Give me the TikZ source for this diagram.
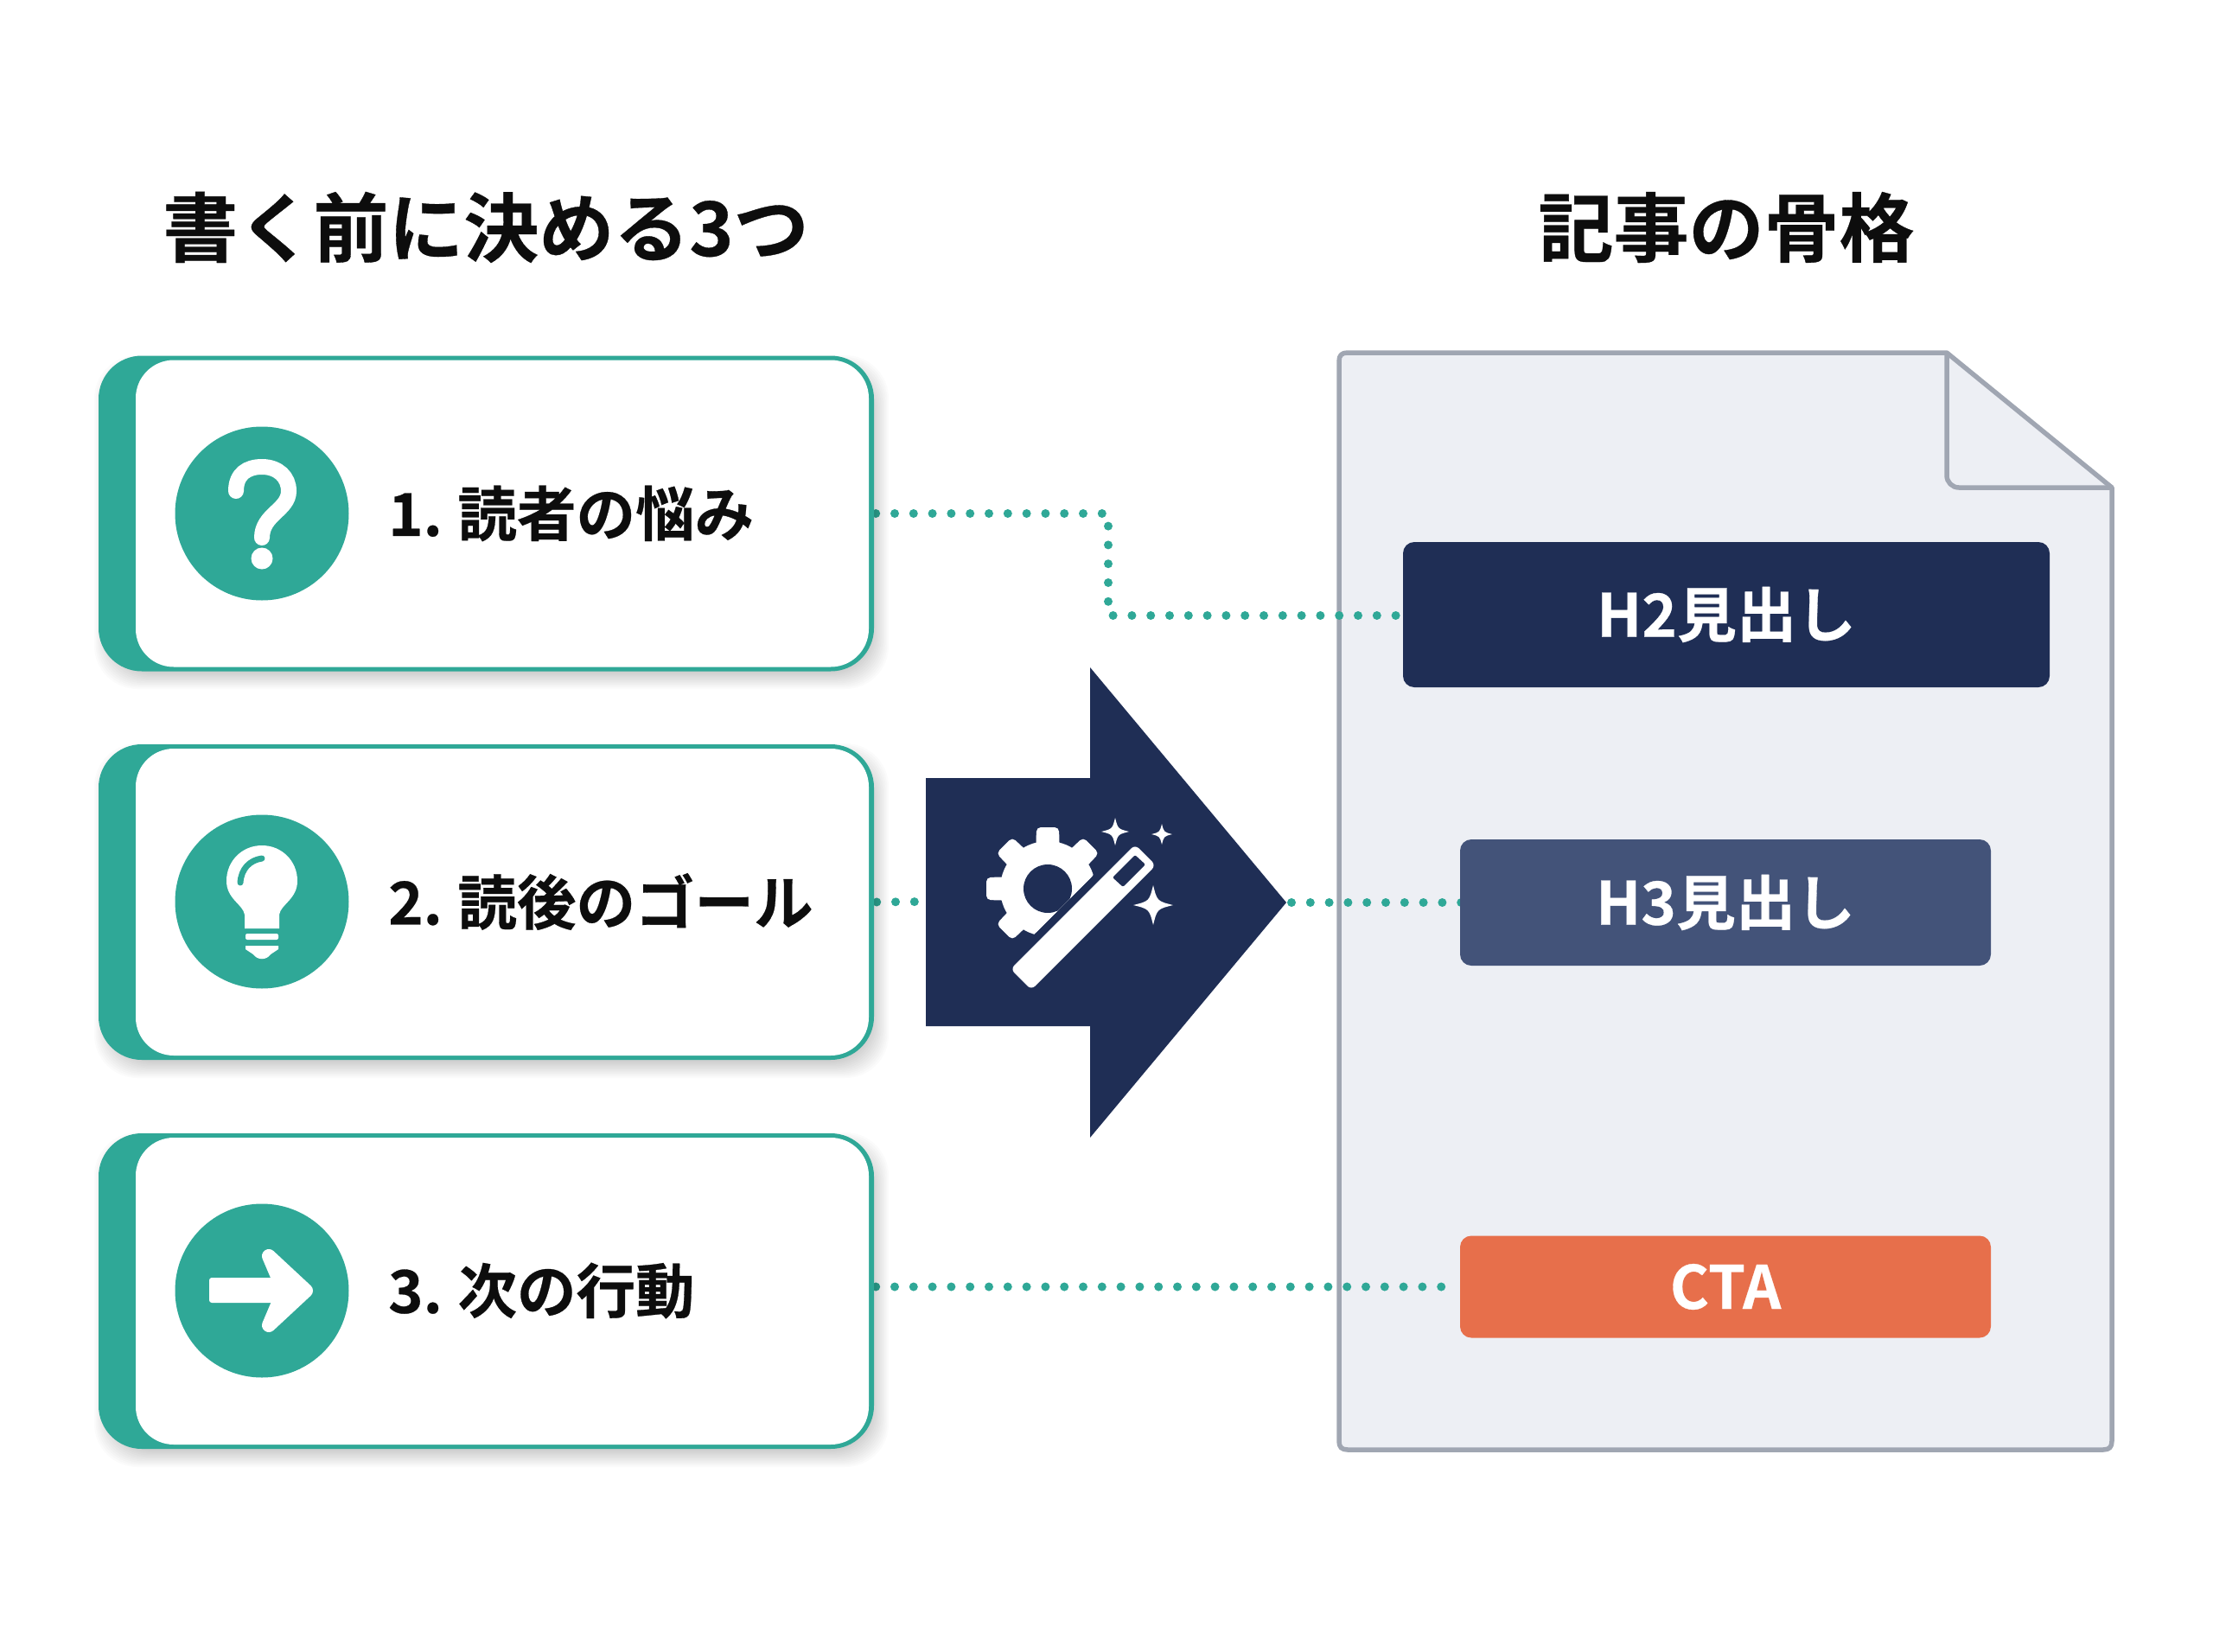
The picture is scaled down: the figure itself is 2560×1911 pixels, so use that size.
\documentclass[tikz,border=0pt]{standalone}
\usepackage{fontspec}
\setmainfont{Noto Sans CJK JP}[BoldFont={Noto Sans CJK JP Bold}]
\newfontfamily\jpb[FakeBold=0.4]{Noto Sans CJK JP Bold}
\definecolor{teal1}{HTML}{2FA897}
\definecolor{navy1}{HTML}{1F2E55}
\definecolor{navy2}{HTML}{435379}
\definecolor{orange1}{HTML}{E76F4B}
\definecolor{docfill}{HTML}{EDEFF4}
\definecolor{docline}{HTML}{A0A6B2}
\definecolor{ink}{HTML}{0D0D0D}
\pgfdeclarelayer{back}
\pgfdeclarelayer{mid}
\pgfsetlayers{back,mid,main}
\newcommand{\sparkle}[3]{\fill[white] (#1-#3,#2) .. controls (#1-.2*#3,#2-.2*#3) .. (#1,#2-#3) .. controls (#1+.2*#3,#2-.2*#3) .. (#1+#3,#2) .. controls (#1+.2*#3,#2+.2*#3) .. (#1,#2+#3) .. controls (#1-.2*#3,#2+.2*#3) .. cycle;}
\newcommand{\softshadow}[4]{\foreach \s in {0,...,11}{\fill[black,opacity=.016,rounded corners=50pt] (#1-11+\s*1.7+6,#2-11+\s*1.7+10) rectangle (#3+11-\s*1.7+6,#4+11-\s*1.7+10);}}
\tikzset{
  x=1pt,y=-1pt,
  title/.style={font=\jpb\fontsize{87}{96}\selectfont,text=ink,inner sep=0pt},
  cardout/.style={fill=teal1,rounded corners=50pt,inner sep=0pt,minimum width=897pt,minimum height=365pt},
  cardin/.style={fill=white,rounded corners=44pt,inner sep=0pt,minimum width=848pt,minimum height=355pt},
  icon/.style={circle,fill=teal1,minimum size=201pt,inner sep=0pt},
  label/.style={font=\jpb\fontsize{68.5}{76}\selectfont,text=ink,inner sep=0pt,anchor=west},
  headbox/.style={rounded corners=13pt,inner sep=0pt,text=white,font=\jpb\fontsize{69}{76}\selectfont},
  dots/.style={teal1,line width=10pt,line cap=round,dash pattern=on 0pt off 21.8pt,line join=round},
}
\begin{document}
\begin{tikzpicture}
\useasboundingbox (0,0) rectangle (2560,1911);
\begin{pgfonlayer}{back}
\fill[white] (0,0) rectangle (2560,1911);
% document
\draw[docline,fill=docfill,line width=5.5pt,line join=round]
  (1559,408) -- (2252,408) -- (2443,564) -- (2443,1667) .. controls (2443,1674) and (2440,1677) .. (2433,1677) -- (1559,1677) .. controls (1552,1677) and (1549,1674) .. (1549,1667) -- (1549,418) .. controls (1549,411) and (1552,408) .. (1559,408) -- cycle;
\draw[docline,line width=5.5pt,rounded corners=14pt,line join=round] (2252,408) -- (2252,564) -- (2443,564);
\end{pgfonlayer}
% titles
\node[title] (t1) at (562,263) {書く前に決める3つ};
\node[title] (t2) at (1997,263) {記事の骨格};
% card shadows
\softshadow{114}{412}{1011}{776}
\softshadow{114}{861}{1011}{1226}
\softshadow{114}{1311}{1011}{1676}
% cards
\node[cardout] (c1) at (562.5,594) {};
\node[cardin] (c1i) at (581,594) {};
\node[cardout] (c2) at (562.5,1043.5) {};
\node[cardin] (c2i) at (581,1043.5) {};
\node[cardout] (c3) at (562.5,1493.5) {};
\node[cardin] (c3i) at (581,1493.5) {};
% icons
\node[icon] (i1) at (303,594) {};
\node[icon] (i2) at (303,1043) {};
\node[icon] (i3) at (303,1493) {};
% question mark
\draw[white,line width=18pt,line cap=round] (273,568) .. controls (273,548) and (286,540) .. (303,540) .. controls (322,540) and (334,552) .. (334,568) .. controls (334,590) and (303,595) .. (303,622);
\fill[white] (303,646) circle (12.5);
% bulb
\fill[white] (283,1074) -- (283,1058) .. controls (281,1046) and (262,1040) .. (262,1019) .. controls (262,996) and (280,978) .. (303,978) .. controls (326,978) and (344,996) .. (344,1019) .. controls (344,1040) and (325,1046) .. (323,1058) -- (323,1074) -- cycle;
\draw[teal1,line width=7pt,line cap=round] (278,1021) .. controls (279,1005) and (289,995) .. (303,993);
\fill[white,rounded corners=2pt] (284,1080) rectangle (322,1087);
\fill[white] (284,1094) -- (322,1094) -- (322,1098) -- (313,1104) .. controls (308,1111) and (298,1111) .. (293,1104) -- (284,1098) -- cycle;
% arrow in circle
\fill[white,rounded corners=3pt] (242,1478) rectangle (335,1507);
\draw[white,fill=white,line width=16pt,line join=round] (311,1453) -- (354,1493) -- (311,1533) -- (328,1493) -- cycle;
% labels
\node[label] (l1) at (449,594) {1. \kern-3pt 読者の悩み};
\node[label] (l2) at (449,1043) {2. \kern-3pt 読後のゴール};
\node[label] (l3) at (449,1493) {3. \kern-3pt 次の行動};
% heading boxes
\node[headbox,fill=navy1,minimum width=748pt,minimum height=168pt] (h2) at (1997,711) {H2見出し};
\node[headbox,fill=navy2,minimum width=614pt,minimum height=146pt] (h3) at (1996,1044) {H3見出し};
\node[headbox,fill=orange1,minimum width=614pt,minimum height=118pt] (cta) at (1996,1488.5) {CTA};
% big arrow
\coordinate (atail) at (1071,1043);
\coordinate (atip) at (1488,1044);
\fill[navy1] (1071,900) -- (1261,900) -- (1261,772) -- (atip) -- (1261,1316) -- (1261,1187) -- (1071,1187) -- cycle;
% gear
\begin{scope}
\clip (1100,900) -- (1377,900) -- (1100,1177) -- cycle;
\foreach \a in {0,45,...,315}{
  \fill[white,rounded corners=5pt,rotate around={\a:(1212,1028)}] (1197,1028) -- (1199,957) -- (1225,957) -- (1227,1028) -- cycle;
}
\fill[white] (1212,1028) circle (55);
\fill[navy1] (1212,1028) circle (28);
\end{scope}
% wand
\fill[white,rounded corners=6pt] (1169,1121) -- (1193,1145) -- (1337,1001) -- (1313,977) -- cycle;
\fill[navy1,rounded corners=2pt] (1287,1015) -- (1313,989) -- (1325,1000) -- (1299,1026) -- cycle;
\sparkle{1290}{962}{16}
\sparkle{1344}{965}{12}
\sparkle{1334}{1047}{23}
% connectors
\coordinate (b1) at (1282,594);
\coordinate (b2) at (1282,712);
\begin{pgfonlayer}{mid}
\draw[dots,shorten <=2pt,shorten >=5pt] (c1.east) -- (b1) -- (b2) -- (h2.west |- b2);
\draw[dots,shorten <=3pt] (c2.east) -- (atail);
\draw[dots,shorten <=6pt,shorten >=-6pt] (atip) -- (h3.west);
\draw[dots,shorten <=2pt,shorten >=8pt] (c3.east |- cta) -- (cta.west);
\end{pgfonlayer}
\end{tikzpicture}
\end{document}
